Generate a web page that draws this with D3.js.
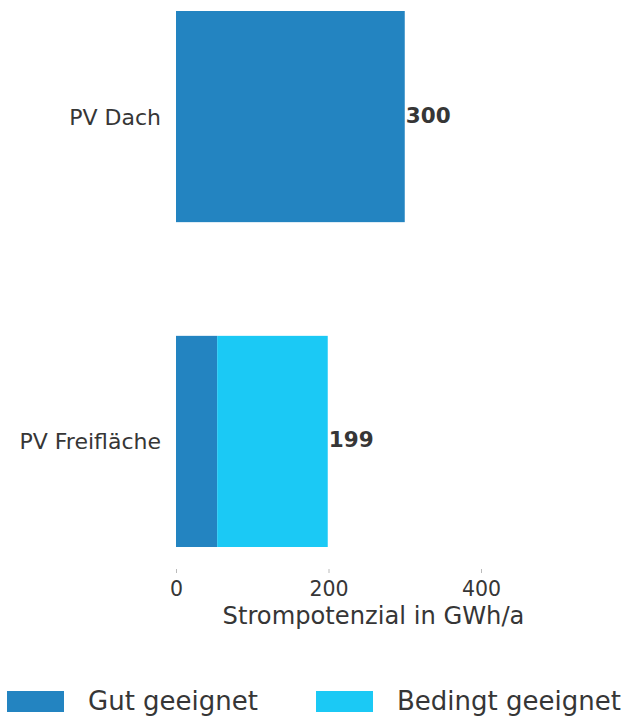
<!DOCTYPE html>
<html><head><meta charset="utf-8">
<script src="https://cdn.jsdelivr.net/npm/d3@7"></script>
<style>body{margin:0;background:#fff}text{font-family:"DejaVu Sans",sans-serif;fill:#363636}</style>
</head><body>
<svg id="c" width="626" height="717"></svg>
<script>
const categories = ["PV Dach", "PV Freifläche"];
const seriesNames = ["Gut geeignet", "Bedingt geeignet"];
const gutGeeignet = [300, 54];
const bedingtGeeignet = [0, 145];
const totals = [300, 199];
const xTicks = [0, 200, 400];
const axisTitle = "Strompotenzial in GWh/a";
const colors = ["#2384c1", "#1bc9f5"];

const svg = d3.select("#c");
const x = d3.scaleLinear().domain([0, 400]).range([176, 481]);
const y = d3.scaleBand().domain(categories).range([11, 547]).paddingInner(0.35).paddingOuter(0);

const rows = categories.map((c, i) => ({cat: c, "Gut geeignet": gutGeeignet[i], "Bedingt geeignet": bedingtGeeignet[i]}));
const stack = d3.stack().keys(seriesNames)(rows);

svg.append("g").selectAll("g").data(stack).join("g")
  .attr("fill", (d, i) => colors[i])
  .selectAll("rect").data(d => d).join("rect")
  .attr("x", d => x(d[0])).attr("width", d => x(d[1]) - x(d[0]))
  .attr("y", d => y(d.data.cat)).attr("height", y.bandwidth());

// category labels
svg.append("g").selectAll("text").data(categories).join("text")
  .attr("x", 161).attr("y", d => y(d) + y.bandwidth() / 2 + 8)
  .attr("text-anchor", "end")
  .style("font-size", "22px").text(d => d);

// totals
svg.append("g").selectAll("text").data(categories).join("text")
  .attr("x", (d, i) => x(totals[i]) + 1).attr("y", d => y(d) + y.bandwidth() / 2 + 6)
  .style("font-size", "21.5px").style("font-weight", "bold").text((d, i) => totals[i]);

// x axis
const ax = svg.append("g").attr("transform", "translate(0,569)")
  .call(d3.axisBottom(x).tickValues(xTicks).tickSize(4).tickPadding(8));
ax.select(".domain").remove();
ax.selectAll(".tick line").attr("stroke", "#bbb");
ax.selectAll(".tick text").style("font-size", "20.5px").style("font-family", '"DejaVu Sans",sans-serif').attr("fill", "#363636");

svg.append("text").attr("x", 373.5).attr("y", 624).attr("text-anchor", "middle")
  .style("font-size", "24.2px").text(axisTitle);

// legend
const legX = [7, 316];
const lg = svg.append("g").selectAll("g").data(seriesNames).join("g")
  .attr("transform", (d, i) => `translate(${legX[i]},691)`);
lg.append("rect").attr("width", 57).attr("height", 21).attr("fill", (d, i) => colors[i]);
lg.append("text").attr("x", 81).attr("y", 19)
  .style("font-size", "26px").text(d => d);
</script>
</body></html>
